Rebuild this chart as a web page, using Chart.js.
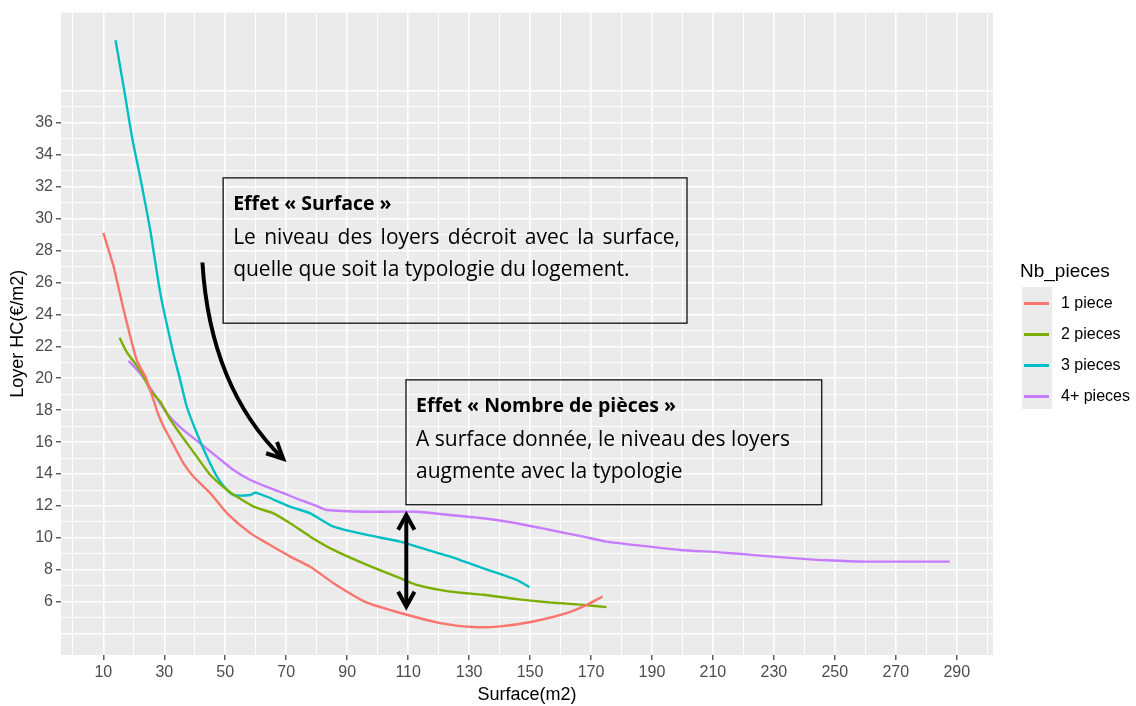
<!DOCTYPE html>
<html>
<head>
<meta charset="utf-8">
<script src="https://cdn.jsdelivr.net/npm/chart.js@4/dist/chart.umd.min.js"></script>
<style>
  html, body { margin: 0; padding: 0; background: #fff; }
  #wrap { width: 1136px; height: 706px; }
</style>
</head>
<body>
<div id="wrap"><canvas id="chart" width="1136" height="706"></canvas></div>
<script>
// données
const seriesNames = ['1 piece', '2 pieces', '3 pieces', '4+ pieces'];
const seriesColors = ['#F8766D', '#7CAE00', '#00BFC4', '#C77CFF'];

const surface1 = [10, 13.4, 16.7, 21.0, 23.8, 26.0, 28.1, 29.8, 33.0, 36.3, 39.6, 45.1, 50.6, 58.2, 63.7, 71.3, 77.9, 85.5, 96.5, 109.6, 120.5, 131.4, 140.2, 151.1, 162.0, 168.6, 173.8];
const loyer1 = [29.1, 26.96, 24.25, 21.1, 20.1, 18.9, 17.7, 16.96, 15.83, 14.67, 13.83, 12.8, 11.54, 10.3, 9.67, 8.83, 8.2, 7.17, 5.95, 5.19, 4.67, 4.42, 4.46, 4.77, 5.29, 5.81, 6.33];

const surface2 = [15.3, 17.8, 20.5, 23.2, 25.4, 28.7, 32.0, 36.3, 40.7, 45.1, 50.6, 53.8, 59.3, 65.8, 71.3, 77.9, 85.5, 96.5, 107.4, 112.8, 123.8, 134.7, 145.6, 156.6, 167.5, 175.1];
const loyer2 = [22.54, 21.6, 20.9, 20.1, 19.25, 18.52, 17.4, 16.23, 15.08, 13.94, 13.0, 12.58, 11.96, 11.54, 10.92, 10.08, 9.25, 8.31, 7.48, 7.06, 6.64, 6.44, 6.17, 5.96, 5.81, 5.67];

const surface3 = [14.0, 16.7, 19.4, 22.1, 25.4, 28.7, 33.0, 35.2, 37.4, 40.7, 44.0, 47.3, 50.6, 52.7, 58.2, 59.8, 63.7, 71.3, 77.9, 85.5, 96.5, 107.4, 112.8, 123.8, 134.7, 145.6, 149.8];
const loyer3 = [41.17, 38.2, 35.1, 32.58, 29.25, 25.3, 21.54, 19.9, 18.2, 16.54, 15.08, 13.83, 13.0, 12.69, 12.69, 12.83, 12.58, 11.96, 11.54, 10.71, 10.19, 9.77, 9.46, 8.83, 8.1, 7.38, 6.92];

const surface4 = [18.3, 22.1, 25.4, 30.9, 36.3, 41.8, 47.3, 52.7, 58.2, 63.7, 69.1, 74.6, 80.1, 83.3, 96.5, 112.8, 123.8, 134.7, 145.6, 156.6, 167.5, 175.1, 186.1, 199.2, 212.3, 226.5, 239.6, 247.3, 260.4, 287.7];
const loyer4 = [21.1, 20.3, 19.4, 17.8, 16.75, 15.92, 15.08, 14.25, 13.63, 13.2, 12.8, 12.38, 12.0, 11.75, 11.64, 11.64, 11.44, 11.23, 10.92, 10.5, 10.08, 9.77, 9.52, 9.25, 9.1, 8.88, 8.69, 8.6, 8.52, 8.52];

const xTickLabels = [10, 30, 50, 70, 90, 110, 130, 150, 170, 190, 210, 230, 250, 270, 290];
const yTickLabels = [6, 8, 10, 12, 14, 16, 18, 20, 22, 24, 26, 28, 30, 32, 34, 36];
const xGrid = [0, 10, 20, 30, 40, 50, 60, 70, 80, 90, 100, 110, 120, 130, 140, 150, 160, 170, 180, 190, 200, 210, 220, 230, 240, 250, 260, 270, 280, 290, 300];
const yGrid = [4, 5, 6, 7, 8, 9, 10, 11, 12, 13, 14, 15, 16, 17, 18, 19, 20, 21, 22, 23, 24, 25, 26, 27, 28, 29, 30, 31, 32, 33, 34, 35, 36, 37, 38];

const xTitle = 'Surface(m2)';
const yTitle = 'Loyer HC(€/m2)';
const legendTitle = 'Nb_pieces';

// encadrés (coordonnées en unités des axes)
const boxes = [
  { x0: 49.3, x1: 201.5, y0: 32.55, y1: 23.45,
    lines: [
      { text: 'Effet « Surface »', bold: true },
      { text: 'Le niveau des loyers décroit avec la surface,', justify: true },
      { text: 'quelle que soit la typologie du logement.' }
    ] },
  { x0: 109.3, x1: 245.7, y0: 19.9, y1: 12.08,
    lines: [
      { text: 'Effet « Nombre de pièces »', bold: true },
      { text: 'A surface donnée, le niveau des loyers' },
      { text: 'augmente avec la typologie' }
    ] }
];
const curvedArrow = { from: [42.5, 27.25], ctrl: [45.0, 19.4], to: [69.0, 14.95] };
const doubleArrow = { x: 109.4, yTop: 11.45, yBottom: 5.7 };

function pts(xs, ys) {
  return xs.map((x, i) => ({ x: x, y: ys[i] }));
}
const allX = [surface1, surface2, surface3, surface4];
const allY = [loyer1, loyer2, loyer3, loyer4];

const datasets = seriesNames.map((name, i) => ({
  label: name,
  data: pts(allX[i], allY[i]),
  borderColor: seriesColors[i],
  backgroundColor: seriesColors[i],
  borderWidth: 2.4,
  pointRadius: 0,
  tension: 0.2,
  fill: false
}));

const panelBg = {
  id: 'panelBg',
  beforeDraw(chart) {
    const a = chart.chartArea;
    const ctx = chart.ctx;
    ctx.save();
    ctx.fillStyle = '#EBEBEB';
    ctx.fillRect(a.left, a.top, a.right - a.left, a.bottom - a.top);
    ctx.restore();
  }
};

function drawHead(ctx, tip, angle, len, spread) {
  ctx.beginPath();
  ctx.moveTo(tip[0] - len * Math.cos(angle - spread), tip[1] - len * Math.sin(angle - spread));
  ctx.lineTo(tip[0], tip[1]);
  ctx.lineTo(tip[0] - len * Math.cos(angle + spread), tip[1] - len * Math.sin(angle + spread));
  ctx.stroke();
}

const noteFont = '"Open Sans", Lato, sans-serif';

const notes = {
  id: 'notes',
  afterDatasetsDraw(chart) {
    const ctx = chart.ctx;
    const sx = chart.scales.x, sy = chart.scales.y;
    const px = v => sx.getPixelForValue(v);
    const py = v => sy.getPixelForValue(v);
    ctx.save();
    boxes.forEach(b => {
      const left = px(b.x0), right = px(b.x1), top = py(b.y0), bottom = py(b.y1);
      ctx.strokeStyle = '#111';
      ctx.lineWidth = 1.3;
      ctx.strokeRect(left, top, right - left, bottom - top);
      ctx.fillStyle = '#000';
      ctx.textBaseline = 'alphabetic';
      const offs = [32, 66, 98];
      b.lines.forEach((ln, k) => {
        ctx.font = ln.bold ? 'bold 19.5px ' + noteFont : '21px ' + noteFont;
        const tx = left + 10, ty = top + offs[k];
        if (ln.justify) {
          const words = ln.text.split(' ');
          const target = right - left - 17;
          const w = words.reduce((s, wd) => s + ctx.measureText(wd).width, 0);
          const gap = (target - w) / (words.length - 1);
          let x = tx;
          words.forEach(wd => { ctx.fillText(wd, x, ty); x += ctx.measureText(wd).width + gap; });
        } else {
          ctx.fillText(ln.text, tx, ty);
        }
      });
    });

    // flèche courbe
    ctx.strokeStyle = '#000';
    ctx.lineWidth = 4;
    const p0 = [px(curvedArrow.from[0]), py(curvedArrow.from[1])];
    const pc = [px(curvedArrow.ctrl[0]), py(curvedArrow.ctrl[1])];
    const p1 = [px(curvedArrow.to[0]), py(curvedArrow.to[1])];
    ctx.beginPath();
    ctx.moveTo(p0[0], p0[1]);
    ctx.quadraticCurveTo(pc[0], pc[1], p1[0], p1[1]);
    ctx.stroke();
    drawHead(ctx, p1, Math.atan2(p1[1] - pc[1], p1[0] - pc[0]), 18, 0.45);

    // double flèche
    const dx = px(doubleArrow.x), dt = py(doubleArrow.yTop), db = py(doubleArrow.yBottom);
    ctx.beginPath();
    ctx.moveTo(dx, dt + 2);
    ctx.lineTo(dx, db - 2);
    ctx.stroke();
    drawHead(ctx, [dx, dt], -Math.PI / 2, 17, 0.5);
    drawHead(ctx, [dx, db], Math.PI / 2, 17, 0.5);
    ctx.restore();
  }
};

const ggLegend = {
  id: 'ggLegend',
  afterDraw(chart) {
    const ctx = chart.ctx;
    ctx.save();
    ctx.fillStyle = '#000';
    ctx.font = '19px "Liberation Sans", Arial, sans-serif';
    ctx.textBaseline = 'alphabetic';
    ctx.fillText(legendTitle, 1020, 277);
    ctx.fillStyle = '#EBEBEB';
    ctx.fillRect(1022, 287, 30, 122);
    chart.data.datasets.forEach((ds, i) => {
      const y = 303.5 + i * 31;
      ctx.strokeStyle = ds.borderColor;
      ctx.lineWidth = 3;
      ctx.beginPath();
      ctx.moveTo(1024, y);
      ctx.lineTo(1049, y);
      ctx.stroke();
      ctx.fillStyle = '#000';
      ctx.font = '16px "Liberation Sans", Arial, sans-serif';
      ctx.textBaseline = 'middle';
      ctx.fillText(ds.label, 1061, y);
    });
    ctx.restore();
  }
};

const tickFont = { family: '"Liberation Sans", Arial, sans-serif', size: 16 };

new Chart(document.getElementById('chart').getContext('2d'), {
  type: 'line',
  data: { datasets: datasets },
  options: {
    responsive: false,
    animation: false,
    layout: { padding: { top: 11, right: 143, bottom: 0, left: 0 } },
    plugins: { legend: { display: false }, tooltip: { enabled: false } },
    scales: {
      x: {
        type: 'linear',
        min: -3.9,
        max: 301.9,
        afterBuildTicks: s => { s.ticks = xGrid.map(v => ({ value: v })); },
        afterFit: s => { s.height = 51; },
        border: { display: false },
        grid: {
          color: '#FFFFFF',
          lineWidth: c => (c.tick && xTickLabels.includes(c.tick.value)) ? 1.6 : 1.0,
          tickColor: c => (c.tick && xTickLabels.includes(c.tick.value)) ? '#333333' : 'rgba(0,0,0,0)',
          tickWidth: 1.2,
          tickLength: 5
        },
        ticks: {
          autoSkip: false,
          maxRotation: 0,
          padding: 3,
          color: '#4D4D4D',
          font: tickFont,
          callback: v => xTickLabels.includes(v) ? String(v) : ''
        },
        title: {
          display: true,
          text: xTitle,
          color: '#000',
          font: { family: '"Liberation Sans", Arial, sans-serif', size: 18 },
          padding: { top: 0, bottom: 0 }
        }
      },
      y: {
        type: 'linear',
        min: 2.67,
        max: 42.9,
        afterBuildTicks: s => { s.ticks = yGrid.map(v => ({ value: v })); },
        afterFit: s => { s.width = 61; },
        border: { display: false },
        grid: {
          color: '#FFFFFF',
          lineWidth: c => (c.tick && c.tick.value % 2 === 0) ? 1.6 : 1.0,
          tickColor: c => (c.tick && yTickLabels.includes(c.tick.value)) ? '#333333' : 'rgba(0,0,0,0)',
          tickWidth: 1.2,
          tickLength: 5
        },
        ticks: {
          autoSkip: false,
          padding: 3,
          color: '#4D4D4D',
          font: tickFont,
          callback: v => yTickLabels.includes(v) ? String(v) : ''
        },
        title: {
          display: true,
          text: yTitle,
          color: '#000',
          font: { family: '"Liberation Sans", Arial, sans-serif', size: 18 },
          padding: { top: 7, bottom: 0 }
        }
      }
    }
  },
  plugins: [panelBg, notes, ggLegend]
});
</script>
</body>
</html>
